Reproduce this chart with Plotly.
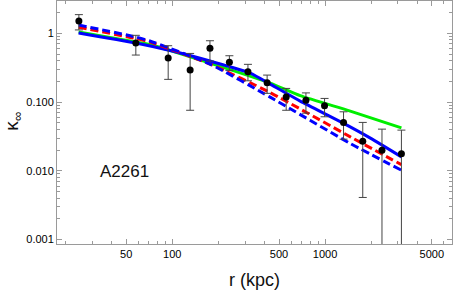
import plotly.graph_objects as go

# Data points (r in kpc, kappa_inf with asymmetric error bounds)
r_obs = [24.5, 57.8, 94.1, 131, 176.6, 236.7, 313, 418, 557, 750, 993, 1322, 1766, 2359, 3162]
k_obs = [1.51, 0.722, 0.437, 0.292, 0.605, 0.378, 0.276, 0.191, 0.119, 0.106, 0.0883, 0.0506, 0.0270, 0.0200, 0.0177]
k_hi = [1.87, 0.935, 0.66, 0.51, 0.78, 0.472, 0.354, 0.247, 0.158, 0.136, 0.113, 0.0722, 0.0506, 0.0404, 0.0391]
k_lo = [1.12, 0.483, 0.214, 0.076, 0.395, 0.289, 0.204, 0.134, 0.076, 0.069, 0.0611, 0.0289, 0.0041, 1e-6, 1e-6]

# Model curves
r_green = [24.4, 57.8, 71.4, 176.7, 437.5, 688, 1463, 3162]
k_green = [1.044, 0.747, 0.687, 0.369, 0.189, 0.1242, 0.0739, 0.0422]

r_blue = [24.4, 57.8, 100, 176.7, 323.6, 437.5, 688, 1315, 1981, 3162]
k_blue = [1.010, 0.722, 0.552, 0.395, 0.264, 0.1827, 0.1033, 0.0494, 0.0299, 0.01596]

r_red_d = [24.4, 57.8, 71.4, 176.7, 437.5, 1463, 3162]
k_red_d = [1.223, 0.840, 0.747, 0.357, 0.1374, 0.0312, 0.01229]

r_blue_d = [24.4, 57.8, 71.4, 176.7, 437.5, 1463, 3162]
k_blue_d = [1.321, 0.883, 0.772, 0.357, 0.1181, 0.0250, 0.01022]

x_ticks = [50, 100, 500, 1000, 5000]
x_ticktext = ["50", "100", "500", "1000", "5000"]
y_ticks = [0.001, 0.01, 0.1, 1]
y_ticktext = ["0.001", "0.010", "0.100", "1"]

x_minor = [20, 30, 40, 60, 70, 80, 90, 200, 300, 400, 600, 700, 800, 900,
           2000, 3000, 4000, 6000, 7000]
y_minor = [m * d for d in [0.001, 0.01, 0.1, 1] for m in range(2, 10)]

FONT = "Liberation Sans, Arial, sans-serif"

fig = go.Figure()

line_w = 3
fig.add_trace(go.Scatter(x=r_green, y=k_green, mode="lines",
                         line=dict(color="#00ee00", width=line_w, shape="spline", smoothing=0.6)))
fig.add_trace(go.Scatter(x=r_blue, y=k_blue, mode="lines",
                         line=dict(color="#0000ff", width=line_w, shape="spline", smoothing=0.6)))
fig.add_trace(go.Scatter(x=r_red_d, y=k_red_d, mode="lines",
                         line=dict(color="#ff0000", width=line_w, dash="8px,4px", shape="spline", smoothing=0.6)))
fig.add_trace(go.Scatter(x=r_blue_d, y=k_blue_d, mode="lines",
                         line=dict(color="#0000ff", width=line_w, dash="8px,4px", shape="spline", smoothing=0.6)))

err_plus = [h - k for h, k in zip(k_hi, k_obs)]
err_minus = [k - l for k, l in zip(k_obs, k_lo)]
fig.add_trace(go.Scatter(x=r_obs, y=k_obs, mode="markers",
                         marker=dict(color="black", size=7),
                         error_y=dict(type="data", symmetric=False, array=err_plus,
                                      arrayminus=err_minus, color="#444444",
                                      thickness=1, width=4)))

axis_common = dict(type="log", showgrid=False, zeroline=False, showline=True,
                   linecolor="#9a9a9a", linewidth=1, mirror="ticks",
                   ticks="inside", ticklen=5, tickcolor="#9a9a9a", automargin=False,
                   tickfont=dict(family=FONT, size=11, color="black"))

fig.update_xaxes(range=[1.246, 3.831], tickmode="array", tickvals=x_ticks,
                 ticktext=x_ticktext,
                 minor=dict(tickmode="array", tickvals=x_minor, ticks="inside",
                            ticklen=3, tickcolor="#9a9a9a"),
                 **axis_common)
fig.update_yaxes(range=[-3.064, 0.47], tickmode="array", tickvals=y_ticks,
                 ticktext=y_ticktext,
                 minor=dict(tickmode="array", tickvals=y_minor, ticks="inside",
                            ticklen=3, tickcolor="#9a9a9a"),
                 **axis_common)

fig.add_annotation(x=0.499, y=-0.148, xref="paper", yref="paper", text="r (kpc)",
                   showarrow=False, xanchor="center", yanchor="middle",
                   font=dict(family=FONT, size=18, color="#111111"))
fig.add_annotation(x=-0.112, y=0.506, xref="paper", yref="paper", text="κ<sub>∞</sub>",
                   showarrow=False, xanchor="center", yanchor="middle", textangle=-90,
                   font=dict(family=FONT, size=19, color="#111111"))
fig.add_annotation(x=0.172, y=0.3, xref="paper", yref="paper", text="A2261",
                   showarrow=False, xanchor="center", yanchor="middle",
                   font=dict(family=FONT, size=17, color="#111111"))

fig.update_layout(width=463, height=303, showlegend=False,
                  font=dict(family=FONT, color="black"),
                  margin=dict(l=57, r=11, t=1, b=59, autoexpand=False),
                  paper_bgcolor="white", plot_bgcolor="white")

fig.write_html("out.html", config={"displayModeBar": False},
               post_script="document.body.style.margin='0';document.body.style.padding='0';")
